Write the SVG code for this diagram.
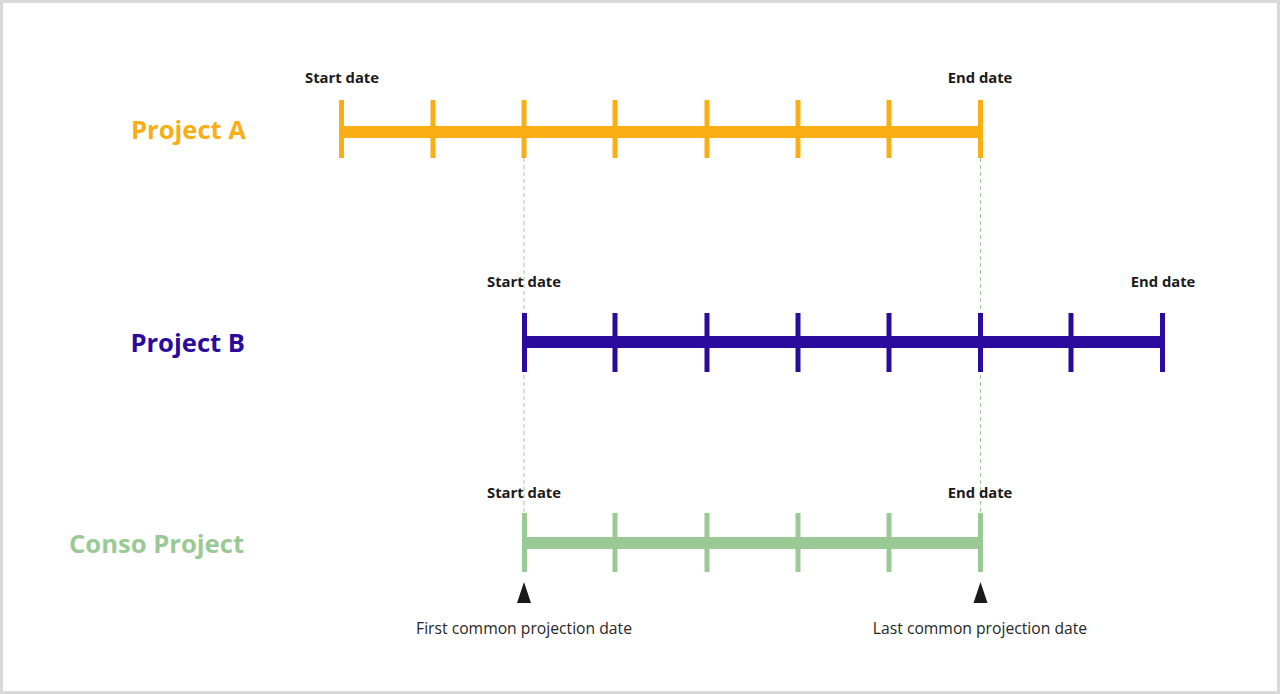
<svg xmlns="http://www.w3.org/2000/svg" width="1280" height="694" viewBox="0 0 1280 694">
<defs>
<style>
.frame{fill:#ffffff;stroke:#d9d9d9;stroke-width:3}
.title{font-family:"Open Sans","Liberation Sans",sans-serif;font-weight:bold;font-size:25.6px;text-anchor:end}
.lbl{font-family:"Open Sans","Liberation Sans",sans-serif;font-weight:bold;font-size:14.8px;fill:#1a1a1a;text-anchor:middle}
.cap{font-family:"Open Sans","Liberation Sans",sans-serif;font-size:15.7px;fill:#262626;text-anchor:middle}
.a{stroke:#F9AE14}
.b{stroke:#2B0A9E}
.c{stroke:#9BC995}
.bar{stroke-width:12;fill:none}
.tick{stroke-width:5;fill:none}
.guide{stroke:#9BC995;stroke-width:1;stroke-dasharray:4 3;fill:none}
.tri{fill:#1a1a1a}
</style>
</defs>
<rect class="frame" x="1.5" y="1.5" width="1277" height="691"/>
<g id="connectors">
<line class="guide" x1="524" y1="158" x2="524" y2="513"/>
<line class="guide" x1="980.5" y1="158" x2="980.5" y2="513"/>
</g>
<g id="projectA">
<text class="title" x="246" y="139" fill="#F9AE14">Project A</text>
<text class="lbl" x="342" y="83">Start date</text>
<text class="lbl" x="980" y="83">End date</text>
<line class="a bar" x1="341" y1="132" x2="980" y2="132"/>
<g class="a tick">
<line x1="341.5" y1="100" x2="341.5" y2="158"/>
<line x1="433" y1="100" x2="433" y2="158"/>
<line x1="524" y1="100" x2="524" y2="158"/>
<line x1="615" y1="100" x2="615" y2="158"/>
<line x1="707" y1="100" x2="707" y2="158"/>
<line x1="798" y1="100" x2="798" y2="158"/>
<line x1="889" y1="100" x2="889" y2="158"/>
<line x1="980.5" y1="100" x2="980.5" y2="158"/>
</g>
</g>
<g id="projectB">
<text class="title" x="245" y="352" fill="#2B0A9E">Project B</text>
<text class="lbl" x="524" y="287">Start date</text>
<text class="lbl" x="1163" y="287">End date</text>
<line class="b bar" x1="524" y1="342" x2="1162" y2="342"/>
<g class="b tick">
<line x1="524.5" y1="313" x2="524.5" y2="372"/>
<line x1="615" y1="313" x2="615" y2="372"/>
<line x1="707" y1="313" x2="707" y2="372"/>
<line x1="798" y1="313" x2="798" y2="372"/>
<line x1="889" y1="313" x2="889" y2="372"/>
<line x1="980.5" y1="313" x2="980.5" y2="372"/>
<line x1="1071" y1="313" x2="1071" y2="372"/>
<line x1="1162.5" y1="313" x2="1162.5" y2="372"/>
</g>
</g>
<g id="conso">
<text class="title" x="244" y="553" fill="#9BC995">Conso Project</text>
<text class="lbl" x="524" y="498">Start date</text>
<text class="lbl" x="980" y="498">End date</text>
<line class="c bar" x1="524" y1="543" x2="980" y2="543"/>
<g class="c tick">
<line x1="524.5" y1="513" x2="524.5" y2="572"/>
<line x1="615" y1="513" x2="615" y2="572"/>
<line x1="707" y1="513" x2="707" y2="572"/>
<line x1="798" y1="513" x2="798" y2="572"/>
<line x1="889" y1="513" x2="889" y2="572"/>
<line x1="980.5" y1="513" x2="980.5" y2="572"/>
</g>
</g>
<g id="firstDate">
<polygon class="tri" points="524,582 531,603 517,603"/>
<text class="cap" x="524" y="634">First common projection date</text>
</g>
<g id="lastDate">
<polygon class="tri" points="980.5,582 987.5,603 973.5,603"/>
<text class="cap" x="980" y="634">Last common projection date</text>
</g>
</svg>
